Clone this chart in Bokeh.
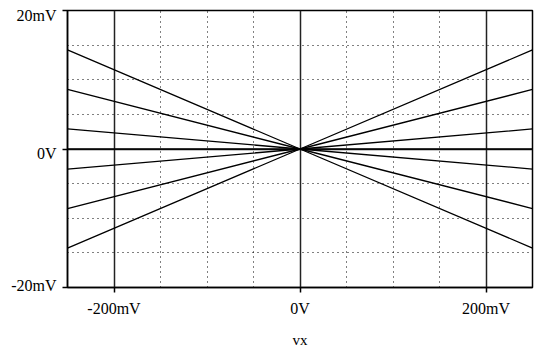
from bokeh.plotting import figure
from bokeh.models import FixedTicker, Grid, Range1d, LinearAxis
from bokeh.embed import file_html
from bokeh.resources import INLINE

# x values in mV
vx = [-250, 0, 250]
# output curves in mV at vx points
series = [
    [14.3, 0, -14.3],
    [8.6, 0, -8.6],
    [2.9, 0, -2.9],
    [0, 0, 0],
    [-2.9, 0, 2.9],
    [-8.6, 0, 8.6],
    [-14.3, 0, 14.3],
]
x_ticks = [-200, 0, 200]
x_tick_labels = {-200: "-200mV", 0: "0V", 200: "200mV"}
y_ticks = [-20, 0, 20]
y_tick_labels = ["-20mV", "0V", "20mV"]
x_minor = [-150, -100, -50, 50, 100, 150]
y_minor = [-15, -10, -5, 5, 10, 15]
# where each y tick label sits, as in the reference (slightly off its tick)
y_label_pos = [-19.7, -0.65, 19.35]

FONT = "Liberation Serif"

p = figure(frame_width=465, frame_height=277, x_range=Range1d(-250, 250), y_range=Range1d(-20, 20),
           output_backend="svg", toolbar_location=None,
           min_border_left=67, min_border_right=4, min_border_top=10, min_border_bottom=40)
p.outline_line_color = "black"
p.outline_line_width = 1.5
p.outline_line_alpha = 1
p.background_fill_color = "white"
p.border_fill_color = "white"

# solid main grid
p.xaxis.ticker = FixedTicker(ticks=x_ticks)
p.yaxis.ticker = FixedTicker(ticks=y_ticks)
p.xaxis.major_label_overrides = x_tick_labels
p.yaxis.major_label_overrides = {t: "" for t in y_ticks}
p.xgrid.grid_line_color = "#222222"
p.xgrid.grid_line_width = 1.5
p.ygrid.ticker = FixedTicker(ticks=[0])
p.ygrid.grid_line_color = "#222222"
p.ygrid.grid_line_width = 1.5

# dotted grids
p.add_layout(Grid(dimension=0, ticker=FixedTicker(ticks=x_minor), grid_line_color="black",
                  grid_line_dash="1 4", grid_line_width=1))
p.add_layout(Grid(dimension=1, ticker=FixedTicker(ticks=y_minor), grid_line_color="black",
                  grid_line_dash="1 4", grid_line_width=1))

for ax in (p.xaxis, p.yaxis):
    ax.axis_line_color = "black"
    ax.axis_line_width = 1.5
    ax.major_tick_out = 5
    ax.major_tick_in = 0
    ax.major_tick_line_color = "black"
    ax.major_tick_line_width = 1.5
    ax.minor_tick_line_color = None
    ax.major_label_text_font = FONT
    ax.major_label_text_font_size = "16px"
    ax.major_label_text_color = "black"
p.yaxis.major_label_standoff = 0
p.yaxis.major_label_text_font_size = "1px"

# label-only y axis, outside the tick axis
lab_axis = LinearAxis(ticker=FixedTicker(ticks=y_label_pos),
                      major_label_overrides={pos: txt for pos, txt in zip(y_label_pos, y_tick_labels)},
                      axis_line_color=None, major_tick_line_color=None, minor_tick_line_color=None,
                      major_tick_out=0, major_tick_in=0, major_label_standoff=6,
                      major_label_orientation="horizontal",
                      major_label_text_font=FONT, major_label_text_font_size="16px",
                      major_label_text_color="black")
p.add_layout(lab_axis, "left")

p.xaxis.major_label_standoff = 7
p.xaxis.axis_label = "vx"
p.xaxis.axis_label_text_font = FONT
p.xaxis.axis_label_text_font_size = "15px"
p.xaxis.axis_label_text_font_style = "normal"
p.xaxis.axis_label_text_color = "black"
p.xaxis.axis_label_standoff = 12

for ys in series:
    p.line(vx, ys, line_color="black", line_width=1.3)

open("out.html", "w").write(file_html(p, INLINE))
